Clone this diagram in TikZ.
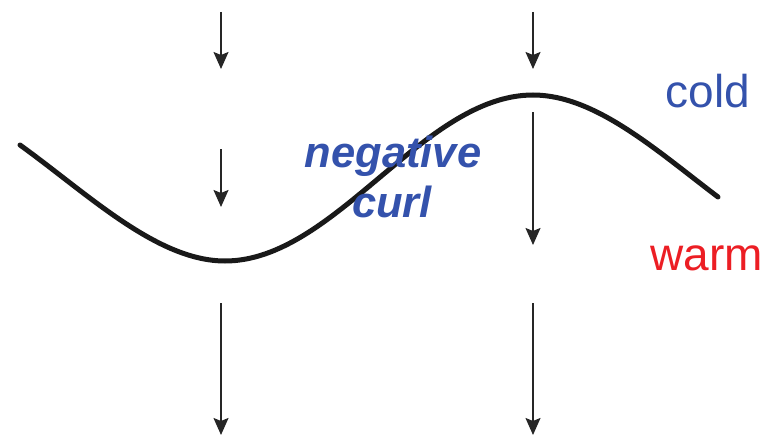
\documentclass[tikz,border=0pt]{standalone}
\usepackage{fontspec}
\setmainfont{Liberation Sans}
\usetikzlibrary{arrows.meta}
\definecolor{coldblue}{RGB}{52,82,172}
\definecolor{warmred}{RGB}{236,30,36}

\begin{document}
\begin{tikzpicture}[
    x=1pt, y=-1pt,
    >={Stealth[length=17pt, width=15pt, inset=3pt]},
    flowarrow/.style={->, line width=1.8pt, black!85},
    wavecurve/.style={line width=5pt, black!90, line cap=round},
    labeltext/.style={anchor=base, inner sep=0pt,
        font=\fontsize{46}{50}\selectfont},
    curltext/.style={anchor=base, inner sep=0pt, text=coldblue,
        font=\fontsize{43.5}{50}\selectfont\bfseries\itshape}
]
\useasboundingbox (0,0) rectangle (777,436);

% wind arrows
\foreach \ax/\ya/\yb in {221/12/69, 221/149/207, 221/303/435,
                         533/12/69, 533/112/245, 533/303/435}
    \draw[flowarrow] (\ax,\ya) -- (\ax,\yb);

% the wave
\coordinate (wavestart) at (20,145);
\coordinate (trough)    at (225,261);
\coordinate (crest)     at (533,95);
\coordinate (waveend)   at (718,197);
\draw[wavecurve] (wavestart)
    .. controls (88,194) and (157,261) .. (trough)
    .. controls (335,261) and (423,95) .. (crest)
    .. controls (595,95) and (656,150) .. (waveend);

\node[curltext] (negative) at (393,167) {negative};
\node[curltext] (curl)     at (392,217) {curl};
\node[labeltext, text=coldblue] (cold) at (708,107) {cold};
\node[labeltext, text=warmred]  (warm) at (707,270) {warm};
\end{tikzpicture}
\end{document}
